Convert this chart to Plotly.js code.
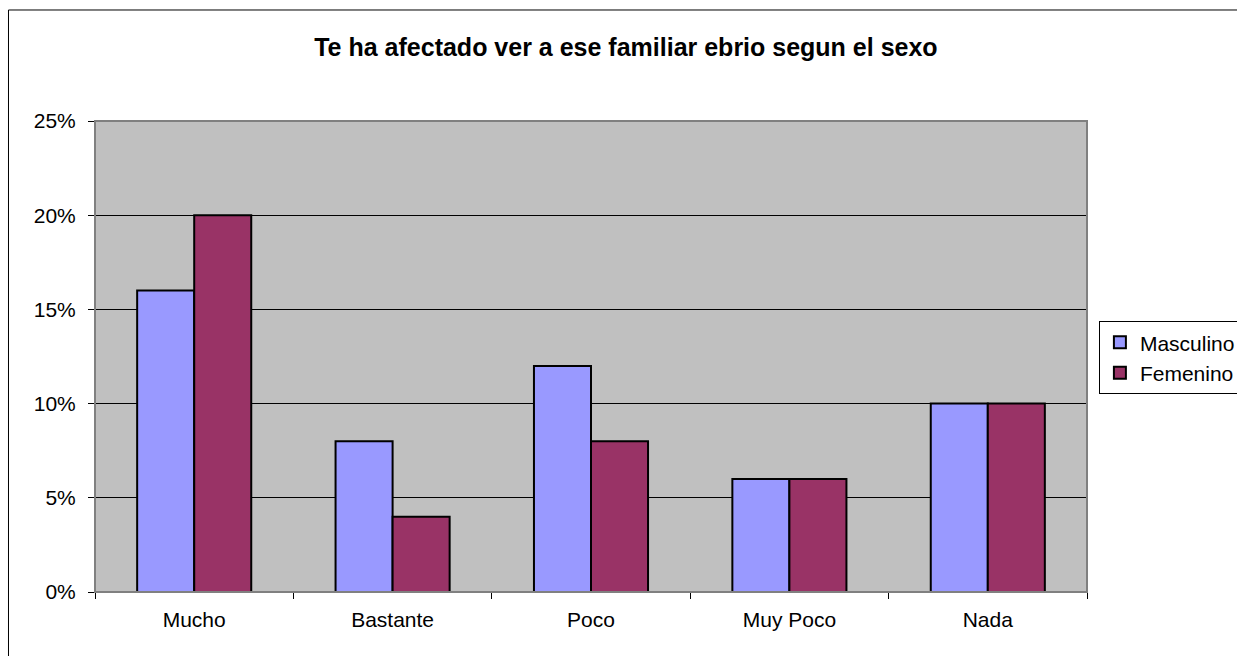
<!DOCTYPE html>
<html>
<head>
<meta charset="utf-8">
<script src="https://cdn.plot.ly/plotly-3.0.1.min.js"></script>
<style>html,body{margin:0;padding:0;background:#fff;}#chart{width:1237px;height:656px;}</style>
</head>
<body>
<div id="chart"></div>
<script>
const categories = ["Mucho", "Bastante", "Poco", "Muy Poco", "Nada"];
const masculino = [0.16, 0.08, 0.12, 0.06, 0.10];
const femenino = [0.20, 0.04, 0.08, 0.06, 0.10];
const yTicks = [0, 0.05, 0.10, 0.15, 0.20, 0.25];
const yTickLabels = ["0%", "5%", "10%", "15%", "20%", "25%"];

const FONT = "Liberation Sans, Arial, sans-serif";

const traces = [
  {type: "bar", name: "Masculino", x: categories, y: masculino,
   marker: {color: "#9999FF", line: {color: "#000000", width: 2}}},
  {type: "bar", name: "Femenino", x: categories, y: femenino,
   marker: {color: "#993366", line: {color: "#000000", width: 2}}}
];

const layout = {
  width: 1237, height: 656,
  margin: {l: 95, r: 150, t: 121, b: 64, pad: 0, autoexpand: false},
  paper_bgcolor: "#ffffff",
  plot_bgcolor: "#C0C0C0",
  font: {family: FONT, size: 21, color: "#000000"},
  title: {text: "<b>Te ha afectado ver a ese familiar ebrio segun el sexo</b>",
          font: {family: FONT, size: 25, color: "#000000"},
          x: 0.506, xref: "container", xanchor: "center",
          y: 0.928, yref: "container", yanchor: "middle"},
  barmode: "group", bargap: 0.425, bargroupgap: 0,
  showlegend: true,
  legend: {x: 1.012, xanchor: "left", y: 0.575, yanchor: "top",
           bgcolor: "#ffffff", bordercolor: "#000000", borderwidth: 1,
           font: {family: FONT, size: 21, color: "#000000"},
           tracegroupgap: 0, itemwidth: 30},
  xaxis: {type: "category", showgrid: false, zeroline: false,
          showline: true, linecolor: "#000000", linewidth: 1,
          ticks: "outside", tickson: "boundaries", ticklen: 6, tickcolor: "#000000",
          tickfont: {family: FONT, size: 21, color: "#000000"},
          ticklabelstandoff: 9},
  yaxis: {range: [0, 0.25], tickvals: yTicks, ticktext: yTickLabels,
          showgrid: true, gridcolor: "#000000", gridwidth: 1, zeroline: false,
          showline: true, linecolor: "#000000", linewidth: 1,
          ticks: "outside", ticklen: 6, tickcolor: "#000000",
          tickfont: {family: FONT, size: 21, color: "#000000"},
          ticklabelstandoff: 8},
  shapes: [
    {type: "rect", xref: "paper", yref: "paper", x0: 0, x1: 1, y0: 0, y1: 1,
     line: {color: "#808080", width: 2}, layer: "above"},
    {type: "rect", xref: "paper", yref: "paper", x0: -0.0872, x1: 1.2, y0: -0.2, y1: 1.2357,
     line: {color: "#000000", width: 1}, layer: "below"}
  ]
};

Plotly.newPlot("chart", traces, layout, {displayModeBar: false, staticPlot: true});
</script>
</body>
</html>
